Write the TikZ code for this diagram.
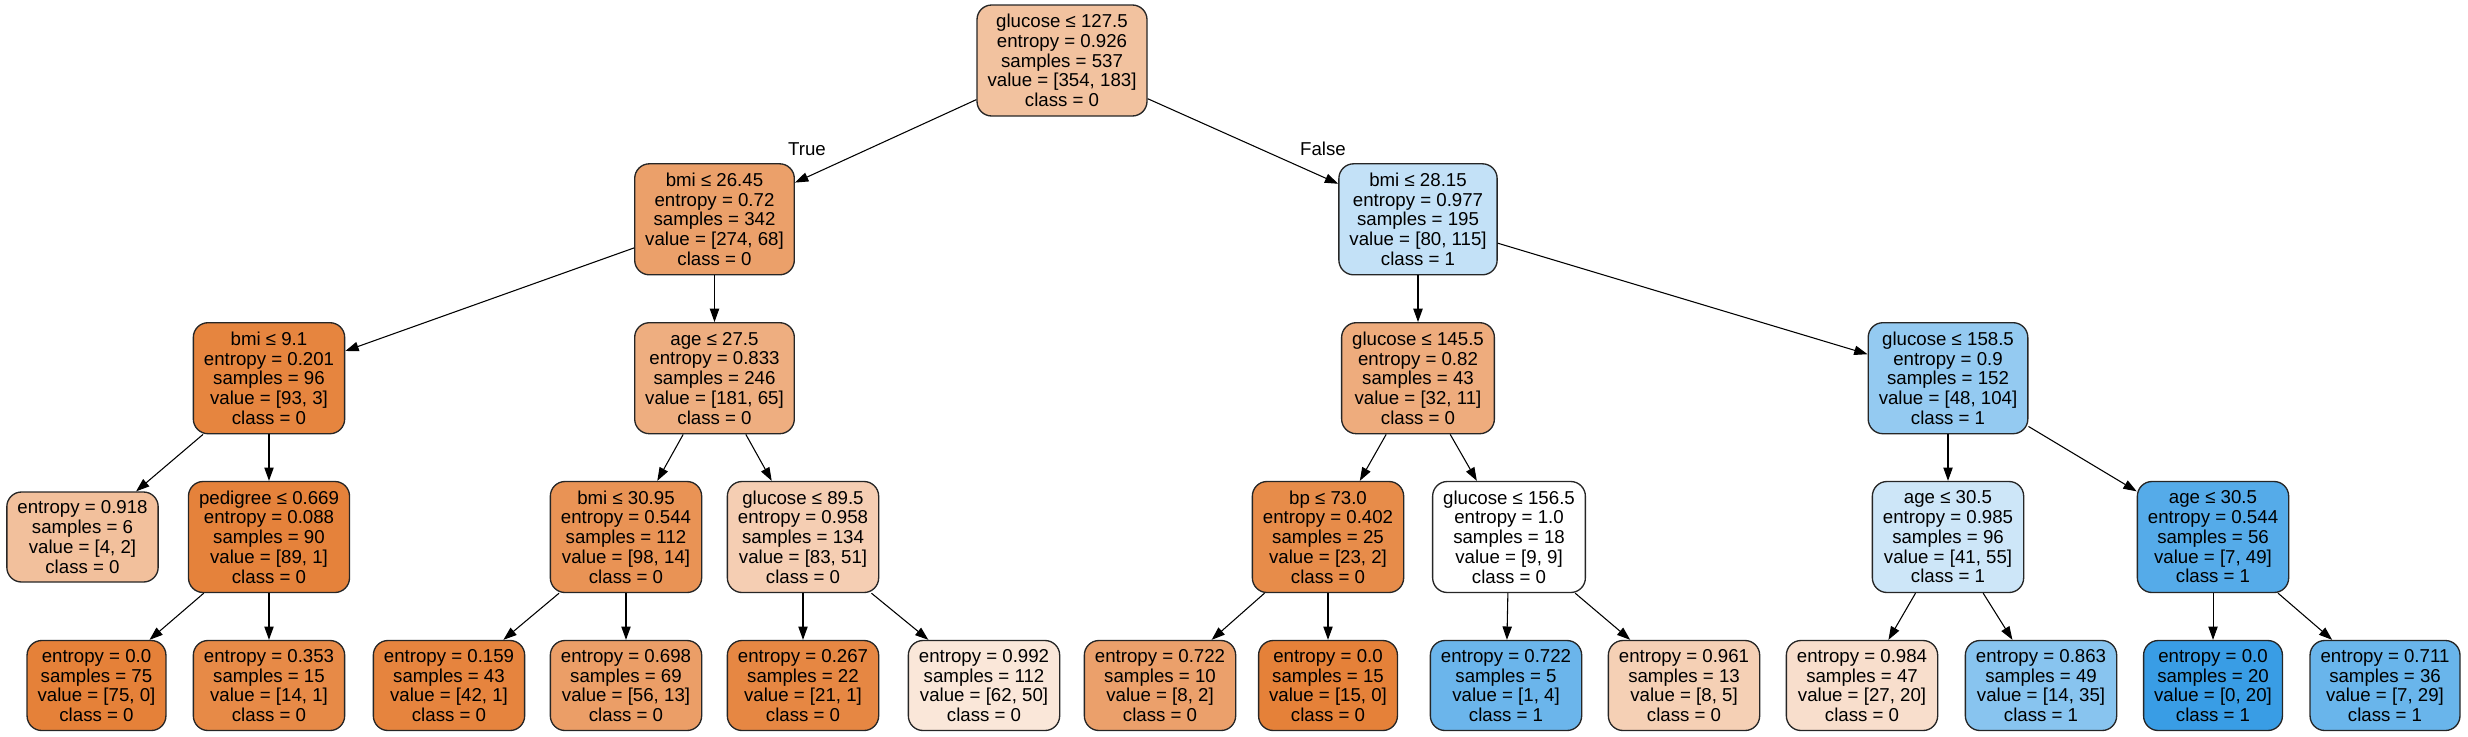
\documentclass[tikz,border=0pt]{standalone}
\usepackage{fontspec}
\setmainfont{Liberation Sans}
\usetikzlibrary{arrows.meta}
\definecolor{orng}{RGB}{229,129,57}
\definecolor{blu}{RGB}{57,157,229}
\tikzset{
  tn/.style={draw=black!85, line width=1pt, rounded corners=11pt, align=center,
    font=\fontsize{14pt}{14.8pt}\selectfont, inner xsep=7.9pt, inner ysep=2pt},
  five/.style={tn, minimum height=83.25pt},
  four/.style={tn, minimum height=67.5pt},
  conn/.style={-{Triangle[length=10pt,width=7pt]}, line width=0.8pt, draw=black},
  lbl/.style={font=\fontsize{14pt}{14.8pt}\selectfont, inner sep=0pt}
}
\begin{document}
\begin{tikzpicture}[x=0.75pt,y=-0.75pt]
\useasboundingbox (0,0) rectangle (2468,736);
% row 0
\node[five, fill=orng!48.3!white] (n0) at (1062,60.5) {glucose ≤ 127.5\\entropy = 0.926\\samples = 537\\value = [354, 183]\\class = 0};
% row 1
\node[five, fill=orng!75.2!white] (n1) at (714.5,219.3) {bmi ≤ 26.45\\entropy = 0.72\\samples = 342\\value = [274, 68]\\class = 0};
\node[five, fill=blu!30.4!white] (n2) at (1418,219.3) {bmi ≤ 28.15\\entropy = 0.977\\samples = 195\\value = [80, 115]\\class = 1};
% row 2
\node[five, fill=orng!96.8!white] (n3) at (269,378.2) {bmi ≤ 9.1\\entropy = 0.201\\samples = 96\\value = [93, 3]\\class = 0};
\node[five, fill=orng!64.1!white] (n4) at (714.5,378.2) {age ≤ 27.5\\entropy = 0.833\\samples = 246\\value = [181, 65]\\class = 0};
\node[five, fill=orng!65.6!white] (n5) at (1418,378.2) {glucose ≤ 145.5\\entropy = 0.82\\samples = 43\\value = [32, 11]\\class = 0};
\node[five, fill=blu!53.8!white] (n6) at (1948,378.2) {glucose ≤ 158.5\\entropy = 0.9\\samples = 152\\value = [48, 104]\\class = 1};
% row 3
\node[four, fill=orng!50!white] (n7) at (82.5,537) {entropy = 0.918\\samples = 6\\value = [4, 2]\\class = 0};
\node[five, fill=orng!98.9!white] (n8) at (269,537) {pedigree ≤ 0.669\\entropy = 0.088\\samples = 90\\value = [89, 1]\\class = 0};
\node[five, fill=orng!85.7!white] (n9) at (626,537) {bmi ≤ 30.95\\entropy = 0.544\\samples = 112\\value = [98, 14]\\class = 0};
\node[five, fill=orng!38.6!white] (n10) at (803,537) {glucose ≤ 89.5\\entropy = 0.958\\samples = 134\\value = [83, 51]\\class = 0};
\node[five, fill=orng!91.3!white] (n11) at (1328,537) {bp ≤ 73.0\\entropy = 0.402\\samples = 25\\value = [23, 2]\\class = 0};
\node[five, fill=white] (n12) at (1509,537) {glucose ≤ 156.5\\entropy = 1.0\\samples = 18\\value = [9, 9]\\class = 0};
\node[five, fill=blu!25.5!white] (n13) at (1948,537) {age ≤ 30.5\\entropy = 0.985\\samples = 96\\value = [41, 55]\\class = 1};
\node[five, fill=blu!85.7!white] (n14) at (2213,537) {age ≤ 30.5\\entropy = 0.544\\samples = 56\\value = [7, 49]\\class = 1};
% row 4
\node[four, fill=orng!100!white] (l1) at (96.5,685.5) {entropy = 0.0\\samples = 75\\value = [75, 0]\\class = 0};
\node[four, fill=orng!92.9!white] (l2) at (269,685.5) {entropy = 0.353\\samples = 15\\value = [14, 1]\\class = 0};
\node[four, fill=orng!97.6!white] (l3) at (449,685.5) {entropy = 0.159\\samples = 43\\value = [42, 1]\\class = 0};
\node[four, fill=orng!76.8!white] (l4) at (626,685.5) {entropy = 0.698\\samples = 69\\value = [56, 13]\\class = 0};
\node[four, fill=orng!95.2!white] (l5) at (803,685.5) {entropy = 0.267\\samples = 22\\value = [21, 1]\\class = 0};
\node[four, fill=orng!19.4!white] (l6) at (984,685.5) {entropy = 0.992\\samples = 112\\value = [62, 50]\\class = 0};
\node[four, fill=orng!75!white] (l7) at (1160,685.5) {entropy = 0.722\\samples = 10\\value = [8, 2]\\class = 0};
\node[four, fill=orng!100!white] (l8) at (1328,685.5) {entropy = 0.0\\samples = 15\\value = [15, 0]\\class = 0};
\node[four, fill=blu!75!white] (l9) at (1506,685.5) {entropy = 0.722\\samples = 5\\value = [1, 4]\\class = 1};
\node[four, fill=orng!37.5!white] (l10) at (1684,685.5) {entropy = 0.961\\samples = 13\\value = [8, 5]\\class = 0};
\node[four, fill=orng!25.9!white] (l11) at (1862,685.5) {entropy = 0.984\\samples = 47\\value = [27, 20]\\class = 0};
\node[four, fill=blu!60!white] (l12) at (2041,685.5) {entropy = 0.863\\samples = 49\\value = [14, 35]\\class = 1};
\node[four, fill=blu!100!white] (l13) at (2213,685.5) {entropy = 0.0\\samples = 20\\value = [0, 20]\\class = 1};
\node[four, fill=blu!75.9!white] (l14) at (2385,685.5) {entropy = 0.711\\samples = 36\\value = [7, 29]\\class = 1};
% edges
\draw[conn] (n0) -- (n1);
\draw[conn] (n0) -- (n2);
\draw[conn] (n1) -- (n3);
\draw[conn] (n1) -- (n4);
\draw[conn] (n2) -- (n5);
\draw[conn] (n2) -- (n6);
\draw[conn] (n3) -- (n7);
\draw[conn] (n3) -- (n8);
\draw[conn] (n4) -- (n9);
\draw[conn] (n4) -- (n10);
\draw[conn] (n5) -- (n11);
\draw[conn] (n5) -- (n12);
\draw[conn] (n6) -- (n13);
\draw[conn] (n6) -- (n14);
\draw[conn] (n8) -- (l1);
\draw[conn] (n8) -- (l2);
\draw[conn] (n9) -- (l3);
\draw[conn] (n9) -- (l4);
\draw[conn] (n10) -- (l5);
\draw[conn] (n10) -- (l6);
\draw[conn] (n11) -- (l7);
\draw[conn] (n11) -- (l8);
\draw[conn] (n12) -- (l9);
\draw[conn] (n12) -- (l10);
\draw[conn] (n13) -- (l11);
\draw[conn] (n13) -- (l12);
\draw[conn] (n14) -- (l13);
\draw[conn] (n14) -- (l14);
% edge labels
\node[lbl] (tlab) at (807,149) {True};
\node[lbl] (flab) at (1323,149) {False};
\end{tikzpicture}
\end{document}
